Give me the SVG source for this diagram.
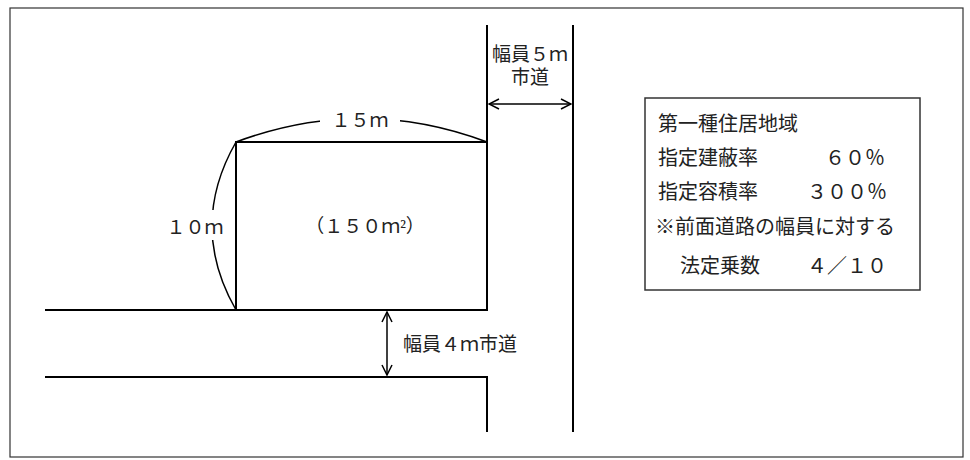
<svg xmlns="http://www.w3.org/2000/svg" width="970" height="460" viewBox="0 0 970 460">
<style>
.l{stroke:#000;stroke-width:2;fill:none}
.a{stroke:#000;stroke-width:1.5;fill:none}
text{font-family:"Liberation Serif","Noto Sans CJK JP",serif;font-size:19px;fill:#222}
#info text{font-size:20px}
</style>
<defs>
<marker id="ah" viewBox="0 0 12 12" refX="11" refY="6" markerWidth="12" markerHeight="12" markerUnits="userSpaceOnUse" orient="auto-start-reverse"><path d="M1,1 L11,6 L1,11" fill="none" stroke="#000" stroke-width="1.5"/></marker>
</defs>
<rect width="970" height="460" fill="#fff"/>
<rect x="10" y="8" width="953" height="449" fill="none" stroke="#333" stroke-width="1.2"/>
<g id="connectors">
<path class="l" d="M487,25 V142 M573,25 V432 M45,310 H236 M45,377 H487 V432"/>
<path class="a" d="M236,142 Q362,95 487,142"/>
<path class="a" d="M236,142 Q188,226 236,310"/>
<rect x="320" y="106" width="80" height="26" fill="#fff"/>
<rect x="158" y="210" width="74" height="30" fill="#fff"/>
<line class="a" x1="489" y1="104" x2="571" y2="104" marker-start="url(#ah)" marker-end="url(#ah)"/>
<line class="a" x1="387" y1="312" x2="387" y2="375" marker-start="url(#ah)" marker-end="url(#ah)"/>
</g>
<g id="lot">
<rect class="l" x="236" y="142" width="251" height="168"/>
<text x="365" y="233" text-anchor="middle">（１５０ｍ²）</text>
</g>
<g id="dim15"><text x="360" y="127" text-anchor="middle">１５ｍ</text></g>
<g id="dim10"><text x="195" y="234" text-anchor="middle">１０ｍ</text></g>
<g id="road5"><text x="530" y="61" text-anchor="middle">幅員５ｍ</text><text x="530" y="84" text-anchor="middle">市道</text></g>
<g id="road4"><text x="403" y="351">幅員４ｍ市道</text></g>
<g id="info">
<rect x="645" y="98" width="275" height="192" fill="#fff" stroke="#333" stroke-width="1.5"/>
<text x="658" y="131">第一種住居地域</text>
<text x="658" y="165">指定建蔽率</text><text x="825" y="165">６０％</text>
<text x="658" y="199">指定容積率</text><text x="807" y="199">３００％</text>
<text x="655" y="234">※前面道路の幅員に対する</text>
<text x="680" y="273">法定乗数</text><text x="807" y="273">４／１０</text>
</g>
</svg>
